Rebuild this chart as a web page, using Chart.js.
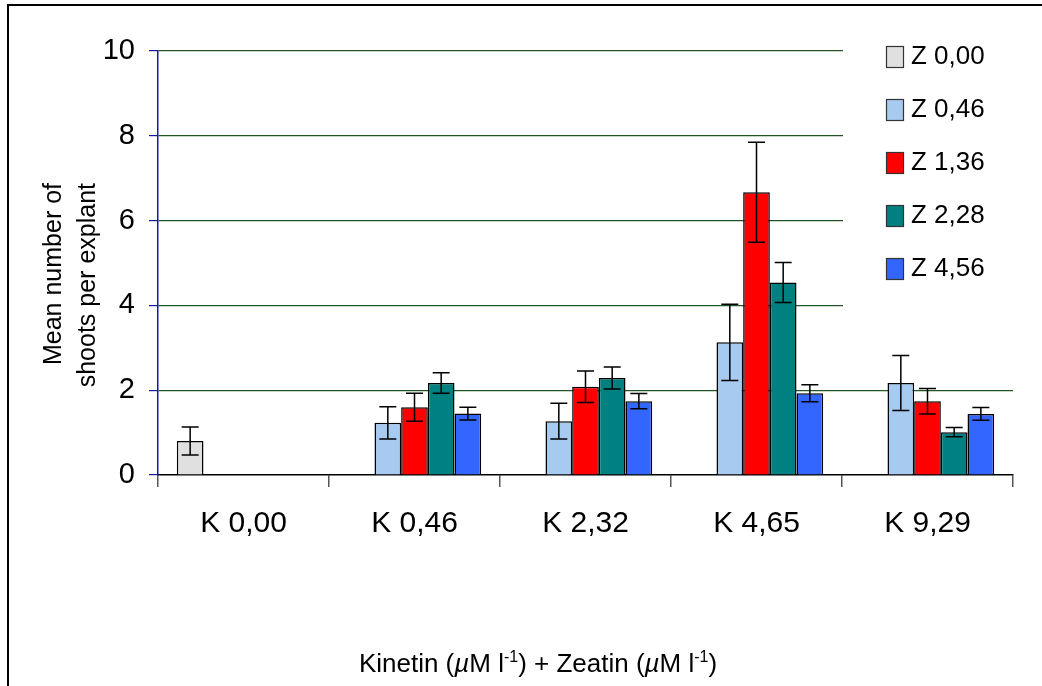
<!DOCTYPE html>
<html><head><meta charset="utf-8">
<script src="https://cdn.jsdelivr.net/npm/chart.js@4.4.1/dist/chart.umd.min.js"></script>
<style>html,body{margin:0;padding:0;background:#fff;overflow:hidden}</style>
</head><body>
<canvas id="c" width="1042" height="686"></canvas>
<script>
const categories = ['K 0,00', 'K 0,46', 'K 2,32', 'K 4,65', 'K 9,29'];
const seriesNames = ['Z 0,00', 'Z 0,46', 'Z 1,36', 'Z 2,28', 'Z 4,56'];
const z000 = [0.80, null, null, null, null];
const z046 = [null, 1.23, 1.27, 3.13, 2.17];
const z136 = [null, 1.60, 2.08, 6.67, 1.74];
const z228 = [null, 2.17, 2.29, 4.54, 1.01];
const z456 = [null, 1.45, 1.74, 1.93, 1.44];
const e000 = [0.33, null, null, null, null];
const e046 = [null, 0.38, 0.42, 0.90, 0.65];
const e136 = [null, 0.33, 0.37, 1.18, 0.30];
const e228 = [null, 0.24, 0.26, 0.47, 0.11];
const e456 = [null, 0.15, 0.18, 0.20, 0.15];
const yTicks = [0, 2, 4, 6, 8, 10];
const yTitleLines = ['Mean number of', 'shoots per explant'];
const xTitleParts = [
  {t: 'Kinetin ('}, {t: 'µ', it: true}, {t: 'M l'}, {t: '-1', sup: true},
  {t: ') + Zeatin ('}, {t: 'µ', it: true}, {t: 'M l'}, {t: '-1', sup: true}, {t: ')'}
];
const colors = ['#E0E0E0', '#A6CAF0', '#FF0000', '#008080', '#3366FF'];

const FONT = '"Liberation Sans", Arial, sans-serif';
const values = [z000, z046, z136, z228, z456];
const errors = [e000, e046, e136, e228, e456];

const errorBars = {
  id: 'errorBars',
  afterDatasetsDraw(chart) {
    const ctx = chart.ctx, y = chart.scales.y;
    chart.data.datasets.forEach((ds, i) => {
      const meta = chart.getDatasetMeta(i);
      meta.data.forEach((bar, j) => {
        const v = ds.data[j], e = ds.errors[j];
        if (v == null || e == null) return;
        const yt = y.getPixelForValue(v + e), yb = y.getPixelForValue(v - e);
        ctx.save();
        ctx.strokeStyle = '#000'; ctx.lineWidth = 1.5;
        ctx.beginPath();
        ctx.moveTo(bar.x, yt); ctx.lineTo(bar.x, yb);
        ctx.moveTo(bar.x - 8.5, yt); ctx.lineTo(bar.x + 8.5, yt);
        ctx.moveTo(bar.x - 8.5, yb); ctx.lineTo(bar.x + 8.5, yb);
        ctx.stroke();
        ctx.restore();
      });
    });
  }
};

const decorations = {
  id: 'decorations',
  beforeDatasetsDraw(chart) {
    const ctx = chart.ctx;
    ctx.save();
    ctx.fillStyle = '#fff';
    ctx.fillRect(843, 30, 199, 295);
    ctx.restore();
  },
  afterDraw(chart) {
    const ctx = chart.ctx;
    ctx.save();
    // frame
    ctx.fillStyle = '#000';
    ctx.fillRect(7, 4, 1042 - 7, 2);
    ctx.fillRect(7, 4, 2, 686 - 4);
    // legend
    chart.data.datasets.forEach((ds, i) => {
      const top = 46 + i * 53;
      ctx.fillStyle = ds.backgroundColor;
      ctx.fillRect(886, top, 18, 22);
      ctx.strokeStyle = '#333'; ctx.lineWidth = 1.2;
      ctx.strokeRect(886.5, top + 0.5, 17, 21);
      ctx.fillStyle = '#000';
      ctx.font = '26px ' + FONT;
      ctx.textAlign = 'left'; ctx.textBaseline = 'alphabetic';
      ctx.fillText(ds.label, 911, top + 18);
    });
    // y title
    ctx.font = '25px ' + FONT;
    ctx.fillStyle = '#000';
    ctx.textAlign = 'right'; ctx.textBaseline = 'alphabetic';
    const bx = [61, 95];
    yTitleLines.forEach((line, i) => {
      ctx.save();
      ctx.translate(bx[i], 183);
      ctx.rotate(-Math.PI / 2);
      ctx.fillText(line, 0, 0);
      ctx.restore();
    });
    // x title
    const size = 26;
    const fontFor = p => (p.it ? 'italic ' : '') + (p.sup ? Math.round(size * 0.62) : size) + 'px ' + FONT;
    let total = 0;
    xTitleParts.forEach(p => { ctx.font = fontFor(p); p.w = ctx.measureText(p.t).width; total += p.w; });
    let cx = 538 - total / 2;
    ctx.textAlign = 'left';
    xTitleParts.forEach(p => {
      ctx.font = fontFor(p);
      ctx.fillText(p.t, cx, 672 + (p.sup ? -size * 0.4 : 0));
      cx += p.w;
    });
    ctx.restore();
  }
};

new Chart(document.getElementById('c'), {
  type: 'bar',
  data: {
    labels: categories,
    datasets: seriesNames.map((name, i) => ({
      label: name,
      data: values[i],
      errors: errors[i],
      backgroundColor: colors[i],
      borderColor: '#000',
      borderWidth: 1.5,
      categoryPercentage: 0.78,
      barPercentage: 1.0
    }))
  },
  options: {
    responsive: false,
    animation: false,
    layout: { padding: { left: 0, right: 29, top: 51, bottom: 0 } },
    plugins: { legend: { display: false }, tooltip: { enabled: false } },
    scales: {
      x: {
        afterFit: s => { s.height = 211; },
        grid: { offset: true, drawOnChartArea: false, drawTicks: true, tickLength: 12, color: '#555', lineWidth: 1.5 },
        border: { color: '#000', width: 1.5 },
        ticks: { font: { size: 30, family: FONT }, color: '#000', padding: 19 }
      },
      y: {
        min: 0, max: 10,
        afterFit: s => { s.width = 158; },
        afterBuildTicks: s => { s.ticks = yTicks.map(v => ({ value: v })); },
        grid: {
          color: ctx => (ctx.tick && ctx.tick.value === 0) ? 'rgba(0,0,0,0)' : '#235423',
          lineWidth: 1.2, tickLength: 9, tickColor: '#1818A0', drawTicks: true
        },
        border: { color: '#1818A0', width: 1.5 },
        ticks: { font: { size: 29, family: FONT }, color: '#000', padding: 14 }
      }
    }
  },
  plugins: [errorBars, decorations]
});
</script>
</body></html>
